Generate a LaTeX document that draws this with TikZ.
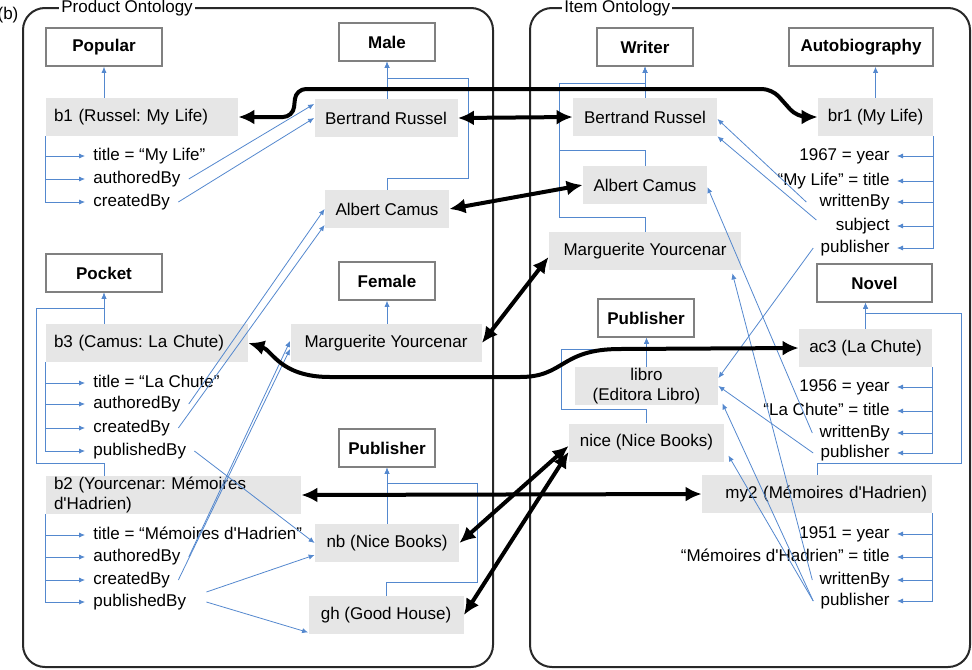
\documentclass[tikz,border=0pt]{standalone}
\usepackage{fontspec}
\setmainfont{Liberation Sans}
\usetikzlibrary{arrows.meta}

\newcommand{\straightq}{\textquotesingle}
\frenchspacing

\begin{document}
\begin{tikzpicture}[x=0.5pt, y=-0.5pt,
    every node/.style={font=\fontsize{8.5}{10}\selectfont},
    classbox/.style={draw=boxgray, line width=0.75pt, fill=white,
        font=\fontsize{8.5}{10}\selectfont\bfseries, minimum height=19pt, inner sep=0pt},
    instbox/.style={fill=instgray, minimum height=19pt, inner sep=0pt},
    lprop/.style={anchor=west, inner xsep=4pt, inner ysep=0pt, text height=6.5pt, text depth=2pt},
    rprop/.style={anchor=east, inner xsep=3.5pt, inner ysep=0pt, text height=6.5pt, text depth=2pt},
    bluelink/.style={draw=linkblue, line width=0.4pt, -{Latex[length=3pt,width=2.6pt]}},
    maplink/.style={draw=black, line width=2pt,
        {Latex[length=8pt,width=7.5pt]}-{Latex[length=8pt,width=7.5pt]}},
    ontoframe/.style={draw=framegray, line width=1pt, rounded corners=11pt}]

    % Colors
    \definecolor{instgray}{RGB}{230,230,230}
    \definecolor{boxgray}{RGB}{128,128,128}
    \definecolor{linkblue}{RGB}{84,136,206}
    \definecolor{framegray}{RGB}{40,40,40}

    \useasboundingbox (0,0) rectangle (972,669);

    % Frames
    \node (figlabel) at (8,15) {(b)};
    \draw[ontoframe] (23,8) rectangle (493,667);
    \node[anchor=west, fill=white, inner xsep=1pt, inner ysep=0pt] (prodlabel) at (59,8) {Product Ontology};
    \draw[ontoframe] (530,8) rectangle (970,667);
    \node[anchor=west, fill=white, inner xsep=1pt, inner ysep=0pt] (itemlabel) at (562,8) {Item Ontology};

    % Product Ontology: classes
    \node[classbox, minimum width=58pt] (pop) at (104,47) {Popular};
    \node[classbox, minimum width=48pt] (male) at (387,42) {Male};
    \node[classbox, minimum width=58pt] (pocket) at (104,273) {Pocket};
    \node[classbox, minimum width=48pt] (female) at (387,281) {Female};
    \node[classbox, minimum width=48pt] (publ) at (387,448) {Publisher};

    % Product Ontology: individuals
    \node[instbox, text width=88pt, align=left, inner xsep=4pt] (b1) at (142,117) {b1 (Russel: My Life)};
    \node[instbox, minimum width=71.5pt] (brl) at (386,118) {Bertrand Russel};
    \node[instbox, minimum width=62pt] (acl) at (387,209) {Albert Camus};
    \node[instbox, text width=93pt, align=left, inner xsep=4pt] (b3) at (147,343) {b3 (Camus: La Chute)};
    \node[instbox, minimum width=95.5pt] (myl) at (386,343) {Marguerite Yourcenar};
    \node[instbox, text width=119.5pt, align=left, inner xsep=4pt] (b2) at (173.5,495) {b2 (Yourcenar: Mémoires\\d\straightq Hadrien)};
    \node[instbox, minimum width=72pt] (nb) at (387,543) {nb (Nice Books)};
    \node[instbox, minimum width=77.5pt] (gh) at (386,615) {gh (Good House)};

    % Product Ontology: properties
    \node[lprop] (b1t) at (85,156) {title = “My Life”};
    \node[lprop] (b1a) at (85,179) {authoredBy};
    \node[lprop] (b1c) at (85,202) {createdBy};
    \node[lprop] (b3t) at (85,383) {title = “La Chute”};
    \node[lprop] (b3a) at (85,404) {authoredBy};
    \node[lprop] (b3c) at (85,428) {createdBy};
    \node[lprop] (b3p) at (85,451) {publishedBy};
    \node[lprop] (b2t) at (85,535) {title = “Mémoires d\straightq Hadrien”};
    \node[lprop] (b2a) at (85,557) {authoredBy};
    \node[lprop] (b2c) at (85,580) {createdBy};
    \node[lprop] (b2p) at (85,602) {publishedBy};

    % Item Ontology: classes
    \node[classbox, minimum width=48pt] (writer) at (645,47) {Writer};
    \node[classbox, minimum width=72pt] (autobio) at (861,47) {Autobiography};
    \node[classbox, minimum width=57.5pt] (novel) at (874.5,283) {Novel};
    \node[classbox, minimum width=48pt] (pubr) at (646,318) {Publisher};

    % Item Ontology: individuals
    \node[instbox, minimum width=72pt] (brr) at (645,117) {Bertrand Russel};
    \node[instbox, minimum width=62pt] (acr) at (645,185) {Albert Camus};
    \node[instbox, minimum width=96pt] (myr) at (645,251) {Marguerite Yourcenar};
    \node[instbox, minimum width=57.5pt] (br1) at (875.5,117) {br1 (My Life)};
    \node[instbox, minimum width=66.5pt] (ac3) at (865.5,348) {ac3 (La Chute)};
    \node[instbox, minimum width=71.5pt, align=center] (libro) at (646.5,386) {libro\\(Editora Libro)};
    \node[instbox, minimum width=77.5pt] (nice) at (646.5,442.5) {nice (Nice Books)};
    \node[instbox, text width=110pt, align=right, inner xsep=2.5pt] (my2) at (817,494) {my2 (Mémoires d\straightq Hadrien)};

    % Item Ontology: properties
    \node[rprop] (br1y) at (897,156) {1967 = year};
    \node[rprop] (br1t) at (897,181) {“My Life” = title};
    \node[rprop] (br1w) at (897,202) {writtenBy};
    \node[rprop] (br1s) at (897,226) {subject};
    \node[rprop] (br1p) at (897,248) {publisher};
    \node[rprop] (ac3y) at (897,387) {1956 = year};
    \node[rprop] (ac3t) at (897,411) {“La Chute” = title};
    \node[rprop] (ac3w) at (897,433) {writtenBy};
    \node[rprop] (ac3p) at (897,453) {publisher};
    \node[rprop] (my2y) at (897,534) {1951 = year};
    \node[rprop] (my2t) at (897,557) {“Mémoires d\straightq Hadrien” = title};
    \node[rprop] (my2w) at (897,580) {writtenBy};
    \node[rprop] (my2p) at (897,601) {publisher};

    % subclass links, product side
    \draw[bluelink] (pop.south |- b1.north) -- (pop.south);
    \draw[bluelink] (male.south |- brl.north) -- (male.south);
    \draw[bluelink] (acl.north) |- (468,178) |- (387,78) -- (male.south);
    \draw[bluelink] (pocket.south |- b3.north) -- (pocket.south);
    \draw[bluelink] (pocket.south |- b2.north) |- (36,463) |- (104,308) -- (pocket.south);
    \draw[bluelink] (female.south |- myl.north) -- (female.south);
    \draw[bluelink] (publ.south |- nb.north) -- (publ.south);
    \draw[bluelink] (gh.north) |- (477,582) |- (387,483) -- (publ.south);

    % subclass links, item side
    \draw[bluelink] (brr.north) -- (writer.south);
    \draw[bluelink] (acr.north) |- (559,150) |- (645,83) -- (writer.south);
    \draw[bluelink] (myr.north) |- (559,217) |- (645,83) -- (writer.south);
    \draw[bluelink] (br1.north) -- (br1.north |- autobio.south);
    \draw[bluelink] (ac3.north) -- (ac3.north |- novel.south);
    \draw[bluelink] (my2.north) |- (961,463) |- (865.5,313) -- (ac3.north |- novel.south);
    \draw[bluelink] (libro.north) -- (libro.north |- pubr.south);
    \draw[bluelink] (nice.north) |- (561,409) |- (646.5,349) -- (libro.north |- pubr.south);

    % property arrows
    \draw[bluelink] (b1.south west) |- (b1t.west);
    \draw[bluelink] (b1.south west) |- (b1a.west);
    \draw[bluelink] (b1.south west) |- (b1c.west);
    \draw[bluelink] (b3.south west) |- (b3t.west);
    \draw[bluelink] (b3.south west) |- (b3a.west);
    \draw[bluelink] (b3.south west) |- (b3c.west);
    \draw[bluelink] (b3.south west) |- (b3p.west);
    \draw[bluelink] (b2.south west) |- (b2t.west);
    \draw[bluelink] (b2.south west) |- (b2a.west);
    \draw[bluelink] (b2.south west) |- (b2c.west);
    \draw[bluelink] (b2.south west) |- (b2p.west);
    \draw[bluelink] (br1.south east) |- (br1y.east);
    \draw[bluelink] (br1.south east) |- (br1t.east);
    \draw[bluelink] (br1.south east) |- (br1w.east);
    \draw[bluelink] (br1.south east) |- (br1s.east);
    \draw[bluelink] (br1.south east) |- (br1p.east);
    \draw[bluelink] (ac3.south east) |- (ac3y.east);
    \draw[bluelink] (ac3.south east) |- (ac3t.east);
    \draw[bluelink] (ac3.south east) |- (ac3w.east);
    \draw[bluelink] (ac3.south east) |- (ac3p.east);
    \draw[bluelink] (my2.south east) |- (my2y.east);
    \draw[bluelink] (my2.south east) |- (my2t.east);
    \draw[bluelink] (my2.south east) |- (my2w.east);
    \draw[bluelink] (my2.south east) |- (my2p.east);

    % object links
    \draw[bluelink] (b1a.east) -- ([yshift=7pt]brl.west);
    \draw[bluelink] (b1c.east) -- (brl.west);
    \draw[bluelink] (b3a.east) -- (acl.west);
    \draw[bluelink] (b3c.east) -- ([yshift=-8pt]acl.west);
    \draw[bluelink] (b3p.east) -- (nb.west);
    \draw[bluelink] (b2a.east) -- ([yshift=1pt]myl.west);
    \draw[bluelink] (b2c.east) -- ([yshift=-3pt]myl.west);
    \draw[bluelink] ([xshift=6pt,yshift=5pt]b2p.east) -- ([yshift=-6pt]nb.west);
    \draw[bluelink] ([xshift=6pt]b2p.east) -- ([yshift=1pt]gh.south west);
    \draw[bluelink] ([xshift=-3pt]br1w.west) -- ([yshift=-1pt]brr.east);
    \draw[bluelink] ([xshift=-6pt,yshift=3pt]br1s.west) -- (brr.south east);
    \draw[bluelink] (br1p.west) -- ([yshift=4pt]libro.east);
    \draw[bluelink] (ac3w.west) -- ([yshift=-1pt]acr.east);
    \draw[bluelink] (ac3p.west) -- (libro.east);
    \draw[bluelink] (my2w.west) -- ([xshift=-4.5pt,yshift=-1.5pt]myr.south east);
    \draw[bluelink] (my2p.west) -- ([xshift=2pt,yshift=1pt]libro.south east);
    \draw[bluelink] (my2p.west) -- ([xshift=2pt,yshift=-6.5pt]nice.east);

    % mappings between the ontologies
    \draw[maplink, rounded corners=5pt] (b1.east) -- (293,117) -- (296,89) -- (772,89) -- (797,117) -- (br1.west);
    \draw[maplink] (brl.east) -- (brr.west);
    \draw[maplink] (acl.east) -- (acr.west);
    \draw[maplink] (myl.east) -- ([yshift=-3pt]myr.west);
    \draw[maplink] (b3.east) .. controls (272,350) and (280,377) .. (330,377) -- (520,377)
        .. controls (565,377) and (560,349) .. (620,349) -- (ac3.west);
    \draw[maplink] (b2.east) -- (my2.west);
    \draw[maplink] (nb.east) -- ([yshift=8pt]nice.south west);
    \draw[maplink] (gh.east) -- ([yshift=5pt]nice.south west);

\end{tikzpicture}
\end{document}
